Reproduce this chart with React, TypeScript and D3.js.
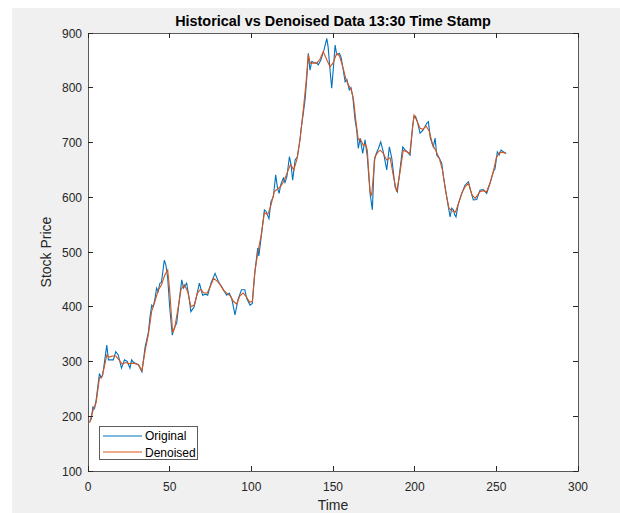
import React from "react";
import * as d3 from "d3";

// [time, price]
const original: [number, number][] = [
  [1, 190], [2, 195], [3, 217], [4, 214], [5, 230], [7, 278], [8, 270], [9, 275], [10, 297],
  [11.5, 330], [12.5, 303], [14, 303], [15.5, 303], [17, 318], [18.5, 312], [20.5, 288],
  [22.3, 303], [24, 300], [25.7, 288], [26.7, 303], [28, 298], [30.8, 294], [33, 281],
  [35, 327], [36, 340], [37, 354], [38, 382], [39, 403], [40, 400], [41, 415], [42, 434],
  [43, 428], [44, 443], [45, 445], [46.7, 485], [47.7, 476], [48.8, 452], [50, 400],
  [51.6, 348], [52.8, 361], [54.3, 370], [55.9, 412], [57.4, 449], [58.5, 434], [60.4, 443],
  [61.8, 418], [63, 391], [65, 400], [66.5, 420], [68.2, 443], [70.2, 421], [72, 423],
  [73.3, 421], [75.3, 443], [77.8, 461], [79.8, 446], [81.8, 437], [83.5, 428], [84.9, 421],
  [86.5, 425], [88, 415], [90, 385], [92, 415], [94, 431], [96, 431], [97.2, 415],
  [99.2, 403], [100.6, 406], [102.3, 467], [103.9, 507], [104.6, 493], [106.3, 534],
  [108, 577], [109, 574], [110.8, 561], [112, 592], [113.5, 601], [114.9, 641], [116, 617],
  [117, 607], [118, 623], [119.6, 635], [120.6, 627], [121.8, 638], [123.3, 674],
  [124.3, 660], [125.3, 631], [126.8, 668], [128.2, 674], [129.8, 705], [130.4, 723],
  [131.8, 753], [132.9, 778], [134, 820], [134.9, 863], [135.9, 832], [137, 848],
  [138.5, 846], [140, 845], [141, 842], [142.5, 850], [144.5, 869], [146.2, 890],
  [147, 875], [148.2, 832], [149.2, 799], [150.2, 835], [151.3, 878], [152.3, 860],
  [153.9, 863], [155, 855], [156.3, 832], [157.4, 811], [158.5, 815], [160, 796],
  [161, 800], [162.1, 784], [163.5, 741], [164.5, 723], [165.5, 689], [166.6, 708],
  [168.2, 680], [169.6, 705], [171, 674], [172.7, 607], [174.1, 577], [175.3, 668],
  [176.5, 680], [177.8, 689], [179.2, 701], [180.8, 683], [182.9, 650], [184.5, 692],
  [186, 671], [188, 619], [189.4, 610], [191, 650], [192.7, 692], [194, 687], [195.5, 683],
  [197.2, 677], [198.8, 732], [199.6, 747], [200.5, 748], [201.5, 740], [203.3, 717],
  [205, 722], [207.4, 735], [208.4, 738], [209.6, 708], [211.4, 692], [212.5, 708],
  [213.5, 677], [215.1, 671], [216.6, 662], [217.6, 638], [219.6, 601], [220.6, 583],
  [221.7, 564], [222.7, 580], [223.7, 577], [224.5, 568], [225.3, 564], [226.8, 589],
  [228.8, 607], [230.8, 622], [232.9, 628], [234, 615], [235.9, 595], [238, 596],
  [240, 613], [242, 614], [244.1, 607], [246.2, 626], [248.2, 647], [249.2, 652],
  [250.6, 683], [251.8, 677], [252.9, 686], [254.3, 683], [256, 680],
];

const denoised: [number, number][] = [
  [1, 188], [3, 210], [5, 225], [7, 270], [8.5, 272], [10, 290], [11.5, 312], [13, 308],
  [15, 310], [17, 310], [19, 303], [21, 295], [23, 298], [25, 296], [27, 297], [29, 296],
  [31, 294], [33, 283], [35, 320], [37, 350], [39, 392], [41, 410], [43, 430], [45, 440],
  [47, 458], [48.8, 467], [50, 430], [51.8, 354], [53, 360], [55, 395], [57, 432],
  [59, 440], [61, 428], [63, 400], [65, 403], [67, 425], [69, 432], [71, 425], [73, 425],
  [75, 438], [77, 452], [79, 447], [81, 440], [83, 430], [85, 425], [87, 420], [89, 410],
  [91, 405], [93, 420], [95, 425], [97, 418], [99, 408], [100.6, 410], [102, 460],
  [104, 500], [106, 530], [108, 572], [110, 568], [112, 585], [114, 610], [116, 615],
  [118, 620], [120, 630], [122, 645], [124, 660], [126, 650], [128, 670], [130, 710],
  [132, 765], [133.5, 810], [134.9, 860], [136, 845], [138, 845], [140, 845], [142, 852],
  [144, 866], [146.2, 851], [148.2, 838], [150, 845], [152.3, 863], [154, 858],
  [156.3, 835], [158, 815], [159.4, 805], [161, 798], [162.5, 780], [164, 740],
  [165.5, 705], [167, 705], [168.5, 695], [170, 697], [171, 686], [172.7, 610],
  [173.7, 604], [175.7, 674], [177.8, 683], [179, 686], [180.8, 680], [182.9, 668],
  [185, 672], [187, 638], [189, 610], [191, 645], [193, 686], [195, 683], [197, 680],
  [199.6, 750], [201, 742], [203.3, 726], [205, 724], [207, 730], [209, 720], [211, 696],
  [213, 685], [215, 672], [217, 650], [219, 610], [221, 580], [223, 575], [225, 573],
  [227, 590], [229, 608], [231, 620], [233, 625], [235, 605], [237, 598], [240, 610],
  [242, 612], [244, 610], [246, 625], [248, 645], [250, 672], [252, 682], [254, 682],
  [256, 680],
];

const xTicks = [0, 50, 100, 150, 200, 250, 300];
const yTicks = [100, 200, 300, 400, 500, 600, 700, 800, 900];

const W = 620, H = 513;
const box = { left: 88, right: 578, top: 33, bottom: 471 };
const font = "'Liberation Sans', Arial, Helvetica, sans-serif";
const ink = "#262626";
const BLUE = "#0072BD", ORANGE = "#D95319";

export default function App() {
  const x = d3.scaleLinear().domain([0, 300]).range([box.left, box.right]);
  const y = d3.scaleLinear().domain([100, 900]).range([box.bottom, box.top]);
  const line = d3.line<[number, number]>().x(d => x(d[0])).y(d => y(d[1]));
  const tl = 5;

  return (
    <svg width={W} height={H} style={{ position: "absolute", left: 0, top: 0 }} fontFamily={font}>
      <rect x={0} y={0} width={W} height={H} fill="#fff" />
      <rect x={12} y={8} width={W - 12} height={H - 8} fill="#f0f0f0" />
      <rect x={box.left} y={box.top} width={box.right - box.left} height={box.bottom - box.top} fill="#fff" />

      <path d={line(original) ?? ""} fill="none" stroke={BLUE} strokeWidth={1.1} />
      <path d={line(denoised) ?? ""} fill="none" stroke={ORANGE} strokeWidth={1.1} />

      {/* box + ticks */}
      <rect x={box.left} y={box.top} width={box.right - box.left} height={box.bottom - box.top}
        fill="none" stroke={ink} strokeOpacity={0.75} strokeWidth={1} shapeRendering="crispEdges" />
      <g stroke={ink} strokeWidth={1} shapeRendering="crispEdges">
        {xTicks.map(t => (
          <g key={"x" + t}>
            <line x1={x(t)} x2={x(t)} y1={box.bottom} y2={box.bottom - tl} />
            <line x1={x(t)} x2={x(t)} y1={box.top} y2={box.top + tl} />
          </g>
        ))}
        {yTicks.map(t => (
          <g key={"y" + t}>
            <line x1={box.left} x2={box.left + tl} y1={y(t)} y2={y(t)} />
            <line x1={box.right} x2={box.right - tl} y1={y(t)} y2={y(t)} />
          </g>
        ))}
      </g>
      <g fill={ink} fontSize={12}>
        {xTicks.map(t => (
          <text key={"xl" + t} x={x(t)} y={box.bottom + 20} textAnchor="middle">{t}</text>
        ))}
        {yTicks.map(t => (
          <text key={"yl" + t} x={box.left - 6} y={y(t) + 4.5} textAnchor="end">{t}</text>
        ))}
      </g>

      <text x={(box.left + box.right) / 2} y={26} textAnchor="middle" fontSize={14.4} fontWeight="bold" fill="#000">
        Historical vs Denoised Data 13:30 Time Stamp
      </text>
      <text x={(box.left + box.right) / 2} y={510} textAnchor="middle" fontSize={14} fill={ink}>Time</text>
      <text transform={`translate(51, ${(box.top + box.bottom) / 2}) rotate(-90)`} textAnchor="middle" fontSize={14} fill={ink}>
        Stock Price
      </text>

      {/* legend */}
      <g>
        <rect x={99.5} y={426.5} width={98} height={33} fill="#fff" stroke={ink} strokeOpacity={0.75} strokeWidth={1} />
        <line x1={103} x2={142} y1={436} y2={436} stroke={BLUE} strokeWidth={1} />
        <line x1={103} x2={142} y1={452} y2={452} stroke={ORANGE} strokeWidth={1} />
        <text x={145} y={440} fontSize={12} fill="#000">Original</text>
        <text x={145} y={456.5} fontSize={12} fill="#000">Denoised</text>
      </g>
    </svg>
  );
}
